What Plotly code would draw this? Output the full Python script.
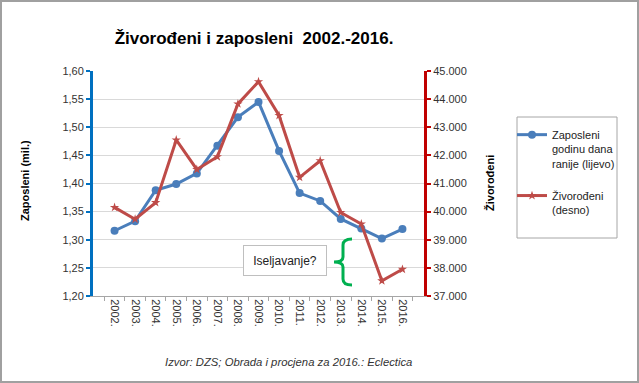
import plotly.graph_objects as go

# ---------------- data ----------------
years = ["2002.", "2003.", "2004.", "2005.", "2006.", "2007.", "2008.", "2009.",
         "2010.", "2011.", "2012.", "2013.", "2014.", "2015.", "2016."]
zaposleni = [1.316, 1.333, 1.388, 1.399, 1.418, 1.467, 1.518, 1.545,
             1.458, 1.383, 1.369, 1.337, 1.320, 1.302, 1.319]
zivorodjeni = [40150, 39730, 40320, 42550, 41500, 41950, 43830, 44620,
               43420, 41220, 41810, 39970, 39560, 37540, 37950]
left_ticks = [1.20, 1.25, 1.30, 1.35, 1.40, 1.45, 1.50, 1.55, 1.60]
right_ticks = [37000, 38000, 39000, 40000, 41000, 42000, 43000, 44000, 45000]

# ---------------- layout geometry ----------------
W, H = 639, 383
L, R, T, B = 93, 424, 71, 296  # plot area in pixels


def px(x):
    return (x - L) / (R - L)


def py(y):
    return (B - y) / (B - T)


BLUE = "#4A7EBB"
RED = "#BE4B48"
FONT = "Liberation Sans, Arial, sans-serif"

fig = go.Figure()
fig.add_trace(go.Scatter(
    x=years, y=zaposleni, mode="lines+markers",
    name="Zaposleni<br>godinu dana<br>ranije (lijevo)",
    line=dict(color=BLUE, width=3),
    marker=dict(symbol="circle", size=8, color=BLUE),
    legendgroup="a", yaxis="y"))
fig.add_trace(go.Scatter(
    x=years, y=zivorodjeni, mode="lines+markers",
    name="Živorođeni<br>(desno)",
    line=dict(color=RED, width=3),
    marker=dict(symbol="star", size=7, color=RED),
    legendgroup="b", yaxis="y2"))

shapes = [
    # outer frame
    dict(type="rect", xref="paper", yref="paper",
         x0=px(1), x1=px(638), y0=py(382), y1=py(1),
         line=dict(color="#A0A0A0", width=2)),
    # legend frame
    dict(type="rect", xref="paper", yref="paper",
         x0=px(517), x1=px(617), y0=py(238), y1=py(117),
         line=dict(color="#A6A6A6", width=1)),
    # green brace
    dict(type="path", xref="paper", yref="paper",
         path=(f"M{px(352)},{py(239)} Q{px(343)},{py(239)} {px(343)},{py(245)} "
               f"L{px(343)},{py(257)} Q{px(343)},{py(262)} {px(334)},{py(262)} "
               f"Q{px(343)},{py(262)} {px(343)},{py(267)} "
               f"L{px(343)},{py(279)} Q{px(343)},{py(285)} {px(352)},{py(285)}"),
         line=dict(color="#00B050", width=3)),
]

annotations = [
    dict(text="Zaposleni (mil.)", xref="paper", yref="paper",
         x=px(25), y=py(181), xanchor="center", yanchor="middle",
         textangle=-90, showarrow=False,
         font=dict(family=FONT, size=11, color="#000000", weight="bold")),
    dict(text="Živorođeni", xref="paper", yref="paper",
         x=px(490), y=py(183), xanchor="center", yanchor="middle",
         textangle=-90, showarrow=False,
         font=dict(family=FONT, size=11, color="#000000", weight="bold")),
    dict(text="Izvor: DZS; Obrada i procjena za 2016.: Eclectica",
         xref="paper", yref="paper", x=px(288), y=py(362),
         xanchor="center", yanchor="middle", showarrow=False,
         font=dict(family=FONT, size=11.3, color="#333333", style="italic")),
    dict(text="Iseljavanje?", xref="paper", yref="paper",
         x=px(285), y=py(260.5), xanchor="center", yanchor="middle",
         showarrow=False,
         width=80, height=27, bgcolor="white",
         bordercolor="#BFBFBF", borderwidth=1, borderpad=1,
         font=dict(family=FONT, size=12, color="#222222")),
]

fig.update_layout(
    width=W, height=H,
    margin=dict(l=L, r=W - R, t=T, b=H - B),
    paper_bgcolor="white", plot_bgcolor="white",
    separators=",.",
    font=dict(family=FONT, size=11, color="#333333"),
    title=dict(text="Živorođeni i zaposleni  2002.-2016.",
               x=px(254), xref="paper", xanchor="center",
               y=1 - 38 / H, yref="container", yanchor="middle",
               font=dict(family=FONT, size=17, color="#000000", weight="bold")),
    xaxis=dict(type="category", tickangle=90, showline=True,
               linecolor="#A6A6A6", linewidth=1, ticks="outside",
               tickson="boundaries", ticklen=4, tickcolor="#A6A6A6",
               showgrid=False, tickfont=dict(size=11, color="#333333")),
    yaxis=dict(range=[1.2, 1.6], tickvals=left_ticks, tickformat=".2f",
               showline=True, linecolor="#0070C0", linewidth=3,
               ticks="outside", ticklen=4, tickwidth=2, tickcolor="#0070C0",
               showgrid=True, gridcolor="#D9D9D9", gridwidth=1,
               zeroline=False, tickfont=dict(size=11, color="#333333")),
    yaxis2=dict(range=[37000, 45000], tickvals=right_ticks, tickformat=",d",
                overlaying="y", side="right",
                showline=True, linecolor="#C00000", linewidth=3,
                ticks="outside", ticklen=4, tickwidth=2, tickcolor="#C00000",
                showgrid=False, zeroline=False,
                tickfont=dict(size=11, color="#333333")),
    showlegend=True,
    legend=dict(x=px(512), y=py(121), xanchor="left", yanchor="top",
                xref="paper", yref="paper", valign="top",
                bgcolor="rgba(0,0,0,0)", borderwidth=0,
                tracegroupgap=15, traceorder="grouped",
                itemwidth=30,
                font=dict(family=FONT, size=11, color="#222222")),
    shapes=shapes,
    annotations=annotations,
)

fig.write_html(
    "out.html",
    config={"displayModeBar": False},
    post_script="document.body.style.margin='0';document.body.style.overflow='hidden';",
)
